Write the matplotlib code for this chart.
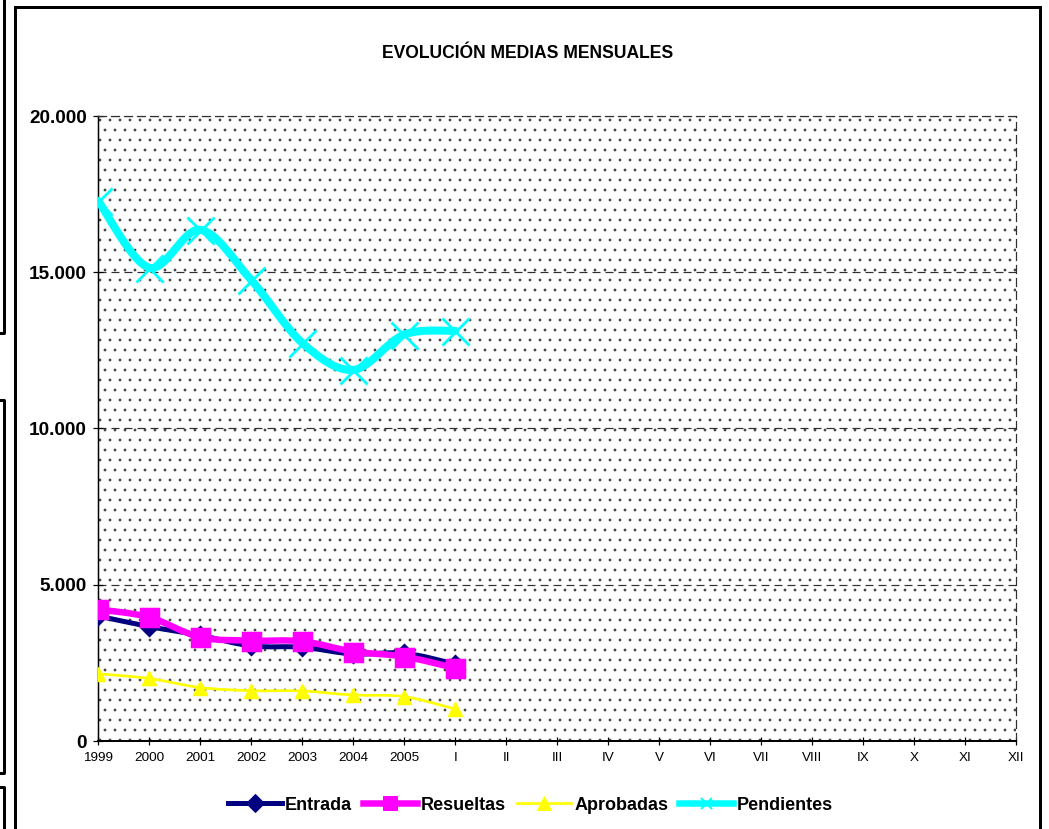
import numpy as np
import matplotlib
matplotlib.use("Agg")
import matplotlib.pyplot as plt
from matplotlib.path import Path
from matplotlib.patches import PathPatch, Rectangle
from matplotlib.lines import Line2D
from matplotlib.ticker import FuncFormatter

# datos
categorias = ['1999', '2000', '2001', '2002', '2003', '2004', '2005',
              'I', 'II', 'III', 'IV', 'V', 'VI', 'VII', 'VIII', 'IX', 'X', 'XI', 'XII']
entrada = [4000, 3660, 3380, 3040, 3000, 2780, 2810, 2460]
resueltas = [4210, 3960, 3320, 3210, 3190, 2860, 2700, 2330]
aprobadas = [2150, 2000, 1710, 1610, 1600, 1470, 1420, 1020]
pendientes = [17280, 15140, 16350, 14750, 12740, 11870, 13000, 13120]
y_ticks = [0, 5000, 10000, 15000, 20000]

DPI = 60
P = 72 / DPI   # pixeles -> puntos
W, H = 1049, 829

plt.rcParams['font.family'] = ['Liberation Sans', 'DejaVu Sans']
plt.rcParams['hatch.linewidth'] = 0.9
plt.rcParams['lines.scale_dashes'] = False


def curva(xs, ys):
    # curva suavizada tipo Excel (bezier entre los puntos)
    pts = np.column_stack([xs, ys]).astype(float)
    n = len(pts)
    verts = [pts[0]]
    codes = [Path.MOVETO]
    for i in range(n - 1):
        p0 = pts[max(i - 1, 0)]
        p1 = pts[i]
        p2 = pts[i + 1]
        p3 = pts[min(i + 2, n - 1)]
        verts += [p1 + (p2 - p0) / 6, p2 - (p3 - p1) / 6, p2]
        codes += [Path.CURVE4] * 3
    return Path(verts, codes)


fig = plt.figure(figsize=((W + 0.3) / DPI, (H + 0.3) / DPI), dpi=DPI)
ax = fig.add_axes([98 / W, 1 - 741 / H, (1016 - 98) / W, (741 - 116) / H])
ax.patch.set_alpha(0)

# fondo punteado
fondo = Rectangle((0, 0), 1, 1, transform=ax.transAxes, facecolor='white',
                  edgecolor='#3a3a3a', lw=0, hatch='.', zorder=0)
ax.add_patch(fondo)

x = np.arange(len(pendientes))

series = [
    (entrada, 'Entrada', '#000080', 5, 'D', 12.5, 1.5),
    (resueltas, 'Resueltas', '#FF00FF', 6.5, 's', 19, 1.5),
    (aprobadas, 'Aprobadas', '#FFFF00', 2.7, '^', 14, 1.5),
    (pendientes, 'Pendientes', '#00FFFF', 8, 'x', 27, 2.8),
]

handles = []
z = 3
for vals, nombre, color, lw, mk, ms, mew in series:
    ax.add_patch(PathPatch(curva(x, vals), fill=False, edgecolor=color, lw=lw * P,
                           capstyle='round', joinstyle='round', zorder=z))
    ax.plot(x, vals, linestyle='none', marker=mk, markersize=ms * P,
            color=color, markeredgecolor=color, markeredgewidth=mew * P, zorder=z + 0.5)
    if mk == 'x':
        ms_l, mew_l = 11, 2
    else:
        ms_l, mew_l = min(ms, 14), 1
    handles.append(Line2D([], [], color=color, lw=min(lw, 6.5) * P, marker=mk,
                          markersize=ms_l * P, markeredgecolor=color,
                          markeredgewidth=mew_l * P, label=nombre))
    z += 1

ax.set_xlim(0, len(categorias) - 1)
ax.set_ylim(0, 20000)
ax.set_xticks(range(len(categorias)))
ax.set_xticklabels(categorias)
ax.set_yticks(y_ticks)
ax.yaxis.set_major_formatter(FuncFormatter(lambda v, p: '{:,.0f}'.format(v).replace(',', '.')))

ax.tick_params(axis='x', direction='inout', length=9 * P, width=1.2 * P, pad=6 * P,
               labelsize=13.5 * P, colors='black')
ax.tick_params(axis='y', direction='inout', length=10 * P, width=1.2 * P, pad=6 * P,
               labelsize=19 * P)
for t in ax.get_yticklabels():
    t.set_fontweight('bold')

ax.yaxis.grid(True, color='#303030', linestyle=(0, (8 * P, 5 * P)), lw=1.2 * P)
ax.set_axisbelow(True)

ax.spines['left'].set_linewidth(1.5 * P)
ax.spines['bottom'].set_linewidth(2 * P)
for lado in ['top', 'right']:
    ax.spines[lado].set_color('#303030')
    ax.spines[lado].set_linestyle((0, (8 * P, 5 * P)))
    ax.spines[lado].set_linewidth(1.2 * P)

fig.text(527 / W, 1 - 53 / H, 'EVOLUCIÓN MEDIAS MENSUALES', ha='center', va='center',
         fontsize=17.5 * P, fontweight='bold')

fig.legend(handles=handles, loc='center', bbox_to_anchor=(530 / W, 1 - 805 / H), ncol=4,
           frameon=False, prop={'size': 18 * P, 'weight': 'bold'},
           handlelength=3.0, handletextpad=0.2, columnspacing=0.6, borderpad=0)

# marco del grafico
fig.add_artist(Rectangle((15 / W, -0.02), (1040 - 15) / W, 1.02 - 7.5 / H,
                         transform=fig.transFigure, fill=False, edgecolor='black', lw=3 * P))

# bordes de otros graficos a la izquierda
def linea(xs, ys):
    fig.add_artist(Line2D([v / W for v in xs], [1 - v / H for v in ys],
                          transform=fig.transFigure, color='black', lw=3 * P))

linea([3.5, 3.5, -2], [-2, 333, 333])
linea([-2, 3.5, 3.5, -2], [400, 400, 773, 773])
linea([-2, 3.5, 3.5], [787, 787, 835])

fig.savefig('out.png', dpi=DPI, facecolor='white')
